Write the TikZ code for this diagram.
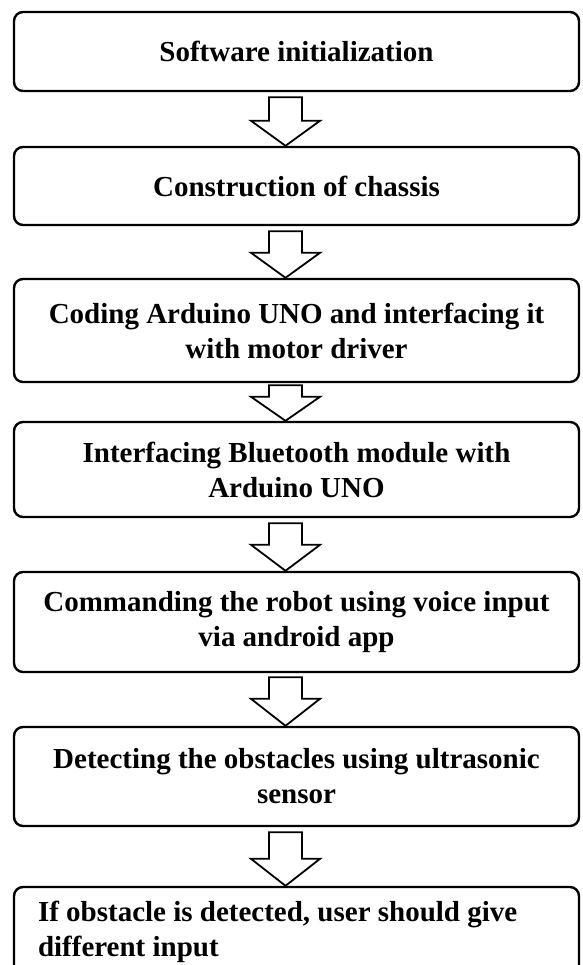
\documentclass[tikz,border=0pt]{standalone}
\usepackage{fontspec}
\setmainfont{Liberation Serif}
\usetikzlibrary{calc}
\tikzset{
  stepbox/.style={draw, line width=2.4pt, rounded corners=9pt, minimum width=565pt,
    inner sep=0pt, align=center, font=\fontsize{29}{35}\selectfont\bfseries},
  hollow/.style={draw, line width=1.8pt, fill=white, line join=miter},
}
\newcommand{\flowarrow}[4]{%
  \draw[hollow] let \p1=(#1.south), \p2=(#2.north) in
    (\x2-27.5pt,\y1-#3) -- (\x2+5.5pt,\y1-#3) -- (\x2+5.5pt,\y2+#4) --
    (\x2+23.5pt,\y2+#4) -- (\x2-11pt,\y2) -- (\x2-45.5pt,\y2+#4) --
    (\x2-27.5pt,\y2+#4) -- cycle;}
\begin{document}
\begin{tikzpicture}[x=1pt,y=-1pt]
\useasboundingbox (0,0) rectangle (582,965);
\node[stepbox, minimum height=79pt] (b1) at (296.5,51.5) {Software initialization};
\node[stepbox, minimum height=78pt] (b2) at (296.5,186) {Construction of chassis};
\node[stepbox, minimum height=103pt] (b3) at (296.5,330.5) {Coding Arduino UNO and interfacing it\\with motor driver};
\node[stepbox, minimum height=95pt] (b4) at (296.5,469.5) {Interfacing Bluetooth module with\\Arduino UNO};
\node[stepbox, minimum height=100pt] (b5) at (296.5,622) {Commanding the robot using voice input\\via android app};
\node[stepbox, minimum height=99pt] (b6) at (296.5,776.5) {Detecting the obstacles using ultrasonic\\sensor};
\node[stepbox, minimum height=90pt, align=flush left, text width=517pt] (b7) at (296.5,932) {If obstacle is detected, user should give\\different input};
\flowarrow{b1}{b2}{5pt}{25pt}
\flowarrow{b2}{b3}{5pt}{25pt}
\flowarrow{b3}{b4}{2pt}{24pt}
\flowarrow{b4}{b5}{5pt}{26pt}
\flowarrow{b5}{b6}{4pt}{27pt}
\flowarrow{b6}{b7}{5pt}{27pt}
\end{tikzpicture}
\end{document}
